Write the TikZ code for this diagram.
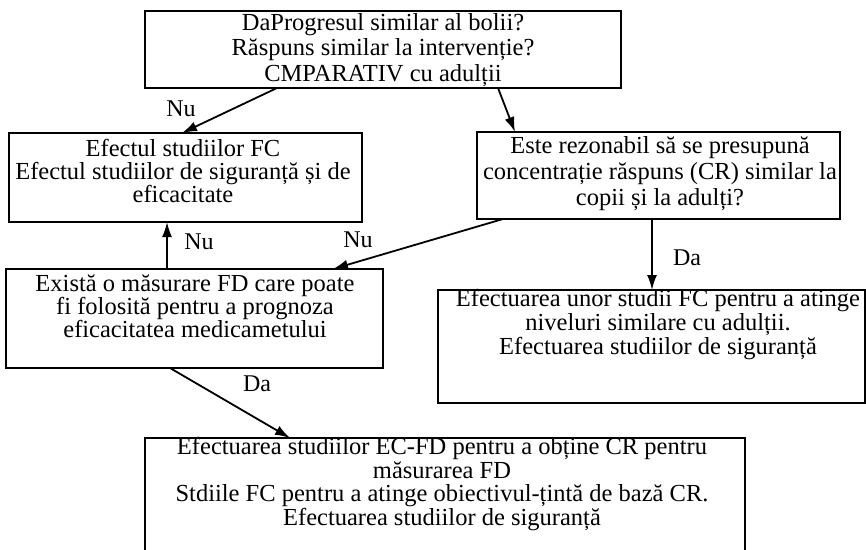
\documentclass[tikz,border=0pt]{standalone}
\usepackage{fontspec}
\setmainfont{Liberation Serif}
\usetikzlibrary{arrows.meta}
\begin{document}
\begin{tikzpicture}[x=1pt,y=-1pt,
  box/.style={draw, line width=1.8pt, inner sep=0pt, outer sep=0pt, anchor=north west},
  txt/.style={align=center, inner sep=0pt, font=\fontsize{24.5}{#1}\selectfont},
  txt/.default=24,
  lbl/.style={inner sep=0pt, font=\fontsize{24}{24}\selectfont},
  arr/.style={line width=1.8pt, -{Latex[length=15pt,width=10pt]}}]
\useasboundingbox (0,0) rectangle (866,549);

% boxes
\node[box, minimum width=476pt, minimum height=77pt]  (top)  at (145,11)  {};
\node[box, minimum width=353pt, minimum height=89pt]  (fc)   at (9,133)   {};
\node[box, minimum width=363pt, minimum height=87pt]  (cr)   at (477,132) {};
\node[box, minimum width=377pt, minimum height=99pt]  (fd)   at (6,269)   {};
\node[box, minimum width=427pt, minimum height=113pt] (sim)  at (438,290) {};
\node[box, minimum width=600pt, minimum height=125pt] (ecfd) at (145,438) {};

% box texts
\node[txt=25.5] (top-t) at (383,50)
  {DaProgresul similar al bolii?\\Răspuns similar la intervenție?\\CMPARATIV cu adulții};
\node[txt=23] (fc-t) at (183,171)
  {Efectul studiilor FC\\Efectul studiilor de siguranță și de\\eficacitate};
\node[txt=26] (cr-t) at (660,174)
  {Este rezonabil să se presupună\\concentrație răspuns (CR) similar la\\copii și la adulți?};
\node[txt=24] (sim-t) at (658,325)
  {Efectuarea unor studii FC pentru a atinge\\niveluri similare cu adulții.\\Efectuarea studiilor de siguranță};
\node[txt=23] (fd-t) at (195,306)
  {Există o măsurare FD care poate\\fi folosită pentru a prognoza\\eficacitatea medicametului};
\node[txt=23.7] (ecfd-t) at (442,484)
  {Efectuarea studiilor EC-FD pentru a obține CR pentru\\măsurarea FD\\Stdiile FC pentru a atinge obiectivul-țintă de bază CR.\\Efectuarea studiilor de siguranță};

% connectors
\draw[arr] ([xshift=132pt]top.south west) -- ([xshift=173pt]fc.north west);
\draw[arr] ([xshift=353pt]top.south west) -- ([xshift=38pt]cr.north west);
\draw[arr] ([xshift=175pt]cr.south west) -- ([xshift=214pt]sim.north west);
\draw[arr] ([xshift=26pt]cr.south west) -- ([xshift=327pt]fd.north west);
\draw[arr] ([xshift=161pt]fd.north west) -- ([xshift=158pt]fc.south west);
\draw[arr] ([xshift=164pt]fd.south west) -- ([xshift=145pt]ecfd.north west);

% branch labels
\node[lbl] (l-nu1) at (181,109) {Nu};
\node[lbl] (l-nu2) at (199,242) {Nu};
\node[lbl] (l-nu3) at (358,240) {Nu};
\node[lbl] (l-da1) at (687,258) {Da};
\node[lbl] (l-da2) at (257,384) {Da};
\end{tikzpicture}
\end{document}
